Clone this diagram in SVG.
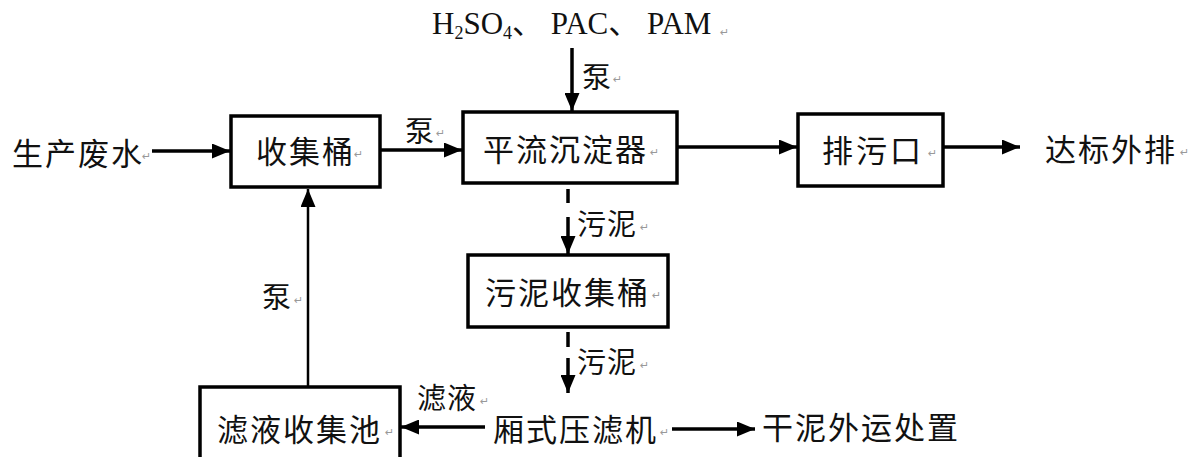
<svg xmlns="http://www.w3.org/2000/svg" width="1203" height="457" viewBox="0 0 1203 457">
<style>
.cn{font-family:"Noto Sans CJK SC","Noto Sans CJK JP",sans-serif;font-size:31px;fill:#111;letter-spacing:2px;dominant-baseline:central}
.lb{font-family:"Noto Sans CJK SC","Noto Sans CJK JP",sans-serif;font-size:29px;fill:#111;letter-spacing:1px;dominant-baseline:central}
.rm{font-family:"Liberation Serif","Noto Sans CJK SC",serif;font-size:31px;fill:#111}
.pm{font-family:"DejaVu Sans",sans-serif;font-size:11px;fill:#999}
.box{fill:#fff;stroke:#000;stroke-width:3.5}
.ln{stroke:#000;stroke-width:3.5;fill:none}
.thin{stroke:#000;stroke-width:2.5;fill:none}
</style>
<defs>
<marker id="ah" markerUnits="userSpaceOnUse" markerWidth="18" markerHeight="15" refX="18" refY="7.5" orient="auto">
<path d="M0,0 L18,7.5 L0,15 z" fill="#000"/>
</marker>
</defs>
<rect width="1203" height="457" fill="#fff"/>

<g id="connectors">
<line class="ln" x1="152" y1="151" x2="230" y2="151" marker-end="url(#ah)"/>
<line class="ln" x1="381" y1="150" x2="462" y2="150" marker-end="url(#ah)"/>
<line class="ln" x1="572" y1="48" x2="572" y2="111" marker-end="url(#ah)"/>
<line class="ln" x1="678" y1="147" x2="797" y2="147" marker-end="url(#ah)"/>
<line class="ln" x1="944" y1="147" x2="1020" y2="147" marker-end="url(#ah)"/>
<line class="ln" x1="568" y1="189" x2="568" y2="203"/>
<line class="ln" x1="568" y1="217" x2="568" y2="254" marker-end="url(#ah)"/>
<line class="ln" x1="568" y1="332" x2="568" y2="347"/>
<line class="ln" x1="568" y1="358" x2="568" y2="393" marker-end="url(#ah)"/>
<line class="ln" x1="485" y1="427" x2="401" y2="427" marker-end="url(#ah)"/>
<line class="thin" x1="308" y1="387" x2="308" y2="189" marker-end="url(#ah)"/>
<line class="ln" x1="672" y1="429" x2="755" y2="429" marker-end="url(#ah)"/>
<text class="lb" x="405" y="129">泵</text><text class="pm" x="436" y="137">↵</text>
<text class="lb" x="582" y="75">泵</text><text class="pm" x="613" y="83">↵</text>
<text class="lb" x="577" y="222">污泥</text><text class="pm" x="640" y="231">↵</text>
<text class="lb" x="577" y="360">污泥</text><text class="pm" x="640" y="369">↵</text>
<text class="lb" x="417" y="396">滤液</text><text class="pm" x="480" y="405">↵</text>
<text class="lb" x="262" y="295">泵</text><text class="pm" x="294" y="304">↵</text>
</g>

<g id="source">
<text class="cn" x="12" y="151">生产废水</text><text class="pm" x="142" y="160">↵</text>
</g>

<g id="chemicals">
<text class="rm" x="432" y="34">H<tspan font-size="18" dy="5">2</tspan><tspan dy="-5">SO</tspan><tspan font-size="18" dy="5">4</tspan><tspan dy="-5">、 PAC、 PAM</tspan></text>
<text class="pm" x="720" y="36">↵</text>
</g>

<g id="collect">
<rect class="box" x="231" y="116" width="149" height="71"/>
<text class="cn" x="256" y="149">收集桶</text><text class="pm" x="354" y="158">↵</text>
</g>

<g id="settler">
<rect class="box" x="463" y="112" width="214" height="71"/>
<text class="cn" x="483" y="147">平流沉淀器</text><text class="pm" x="650" y="156">↵</text>
</g>

<g id="outlet">
<rect class="box" x="798" y="114" width="145" height="72"/>
<text class="cn" x="822" y="148" style="letter-spacing:3px">排污口</text><text class="pm" x="928" y="157">↵</text>
</g>

<g id="discharge">
<text class="cn" x="1045" y="147">达标外排</text><text class="pm" x="1180" y="156">↵</text>
</g>

<g id="sludge-tank">
<rect class="box" x="468" y="255" width="200" height="72"/>
<text class="cn" x="485" y="290">污泥收集桶</text><text class="pm" x="652" y="299">↵</text>
</g>

<g id="filter-press">
<text class="cn" x="493" y="427">厢式压滤机</text><text class="pm" x="660" y="436">↵</text>
</g>

<g id="filtrate-pool">
<rect class="box" x="200" y="387" width="200" height="80"/>
<text class="cn" x="217" y="427">滤液收集池</text><text class="pm" x="385" y="436">↵</text>
</g>

<g id="dry-sludge">
<text class="cn" x="762" y="425">干泥外运处置</text>
</g>
</svg>
